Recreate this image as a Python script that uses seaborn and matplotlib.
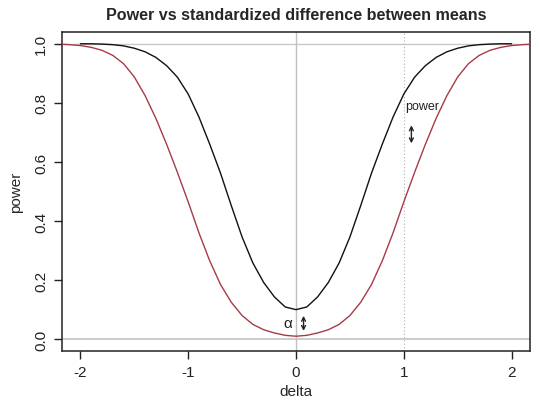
import matplotlib
matplotlib.use("Agg")
import matplotlib.pyplot as plt
import seaborn as sns
import pandas as pd

# power, right half (curves are symmetric about 0)
delta_black_half = [0.0, 0.1, 0.2, 0.3, 0.4, 0.5, 0.6, 0.7, 0.8, 0.9, 1.0,
                    1.1, 1.2, 1.3, 1.4, 1.5, 1.6, 1.7, 1.8, 1.9, 2.0]
power_black_half = [0.100, 0.109, 0.143, 0.192, 0.258, 0.346, 0.452, 0.562, 0.660, 0.752, 0.830,
                    0.887, 0.926, 0.954, 0.973, 0.985, 0.993, 0.997, 0.999, 1.000, 1.000]

delta_red_half = [0.0, 0.1, 0.2, 0.3, 0.4, 0.5, 0.6, 0.7, 0.8, 0.9, 1.0,
                  1.1, 1.2, 1.3, 1.4, 1.5, 1.6, 1.7, 1.8, 1.9, 2.0, 2.1, 2.2]
power_red_half = [0.010, 0.013, 0.021, 0.032, 0.050, 0.080, 0.125, 0.185, 0.265, 0.360, 0.465,
                  0.565, 0.660, 0.748, 0.825, 0.888, 0.933, 0.961, 0.978, 0.988, 0.994, 0.997, 0.999]

x_ticks = [-2, -1, 0, 1, 2]
y_ticks = [0.0, 0.2, 0.4, 0.6, 0.8, 1.0]


def mirror(d, p):
    xs = [-v for v in d[:0:-1]] + list(d)
    ys = list(p[:0:-1]) + list(p)
    return xs, ys


bx, by = mirror(delta_black_half, power_black_half)
rx, ry = mirror(delta_red_half, power_red_half)
df = pd.concat([
    pd.DataFrame({"delta": bx, "power": by, "curve": "black"}),
    pd.DataFrame({"delta": rx, "power": ry, "curve": "red"}),
])

sns.set_style("white")
plt.rcParams["font.family"] = ["Liberation Sans", "DejaVu Sans"]

fig = plt.figure(figsize=(5.4, 4.02), dpi=100)
ax = fig.add_axes([0.1148, 0.1244, 0.8667, 0.7936])

# reference lines
ax.axhline(0, color="#c8c8c8", lw=1.3, zorder=1)
ax.axhline(1, color="#c8c8c8", lw=1.0, zorder=1)
ax.axvline(0, color="#c0c0c0", lw=1.0, zorder=1)
ax.axvline(1, color="#b0b0b0", lw=0.8, ls=(0, (1, 2)), zorder=1)

sns.lineplot(data=df, x="delta", y="power", hue="curve",
             palette={"black": "#111111", "red": "#a83a48"},
             lw=1.0, legend=False, sort=False, estimator=None, ax=ax, zorder=3)

ax.set_xlim(-2.17, 2.17)
ax.set_ylim(-0.04, 1.04)
ax.set_xticks(x_ticks)
ax.set_xticklabels([str(t) for t in x_ticks])
ax.set_yticks(y_ticks)
ax.set_yticklabels([f"{t:.1f}" for t in y_ticks], rotation=90, va="center")
ax.tick_params(direction="out", length=6, width=1, colors="#222222",
               labelsize=11, pad=4, bottom=True, left=True)
for s in ax.spines.values():
    s.set_visible(True)
    s.set_color("#222222")
    s.set_linewidth(1.1)

ax.set_xlabel("delta", fontsize=11, labelpad=4)
ax.set_ylabel("power", fontsize=11, labelpad=8)
ax.set_title("Power vs standardized difference between means",
             fontsize=11.6, fontweight="bold", pad=9)

# annotations
ax.text(1.17, 0.79, "power", fontsize=9, ha="center", va="center", color="#222222")
ax.annotate("", xy=(1.07, 0.663), xytext=(1.07, 0.724),
            arrowprops=dict(arrowstyle="<->", lw=1.0, color="#222222",
                            mutation_scale=7, shrinkA=0, shrinkB=0))
ax.text(-0.08, 0.056, "α", fontsize=11, ha="center", va="center", color="#222222")
ax.annotate("", xy=(0.07, 0.028), xytext=(0.07, 0.079),
            arrowprops=dict(arrowstyle="<->", lw=1.0, color="#222222",
                            mutation_scale=7, shrinkA=0, shrinkB=0))

fig.savefig("out.png", dpi=100)
